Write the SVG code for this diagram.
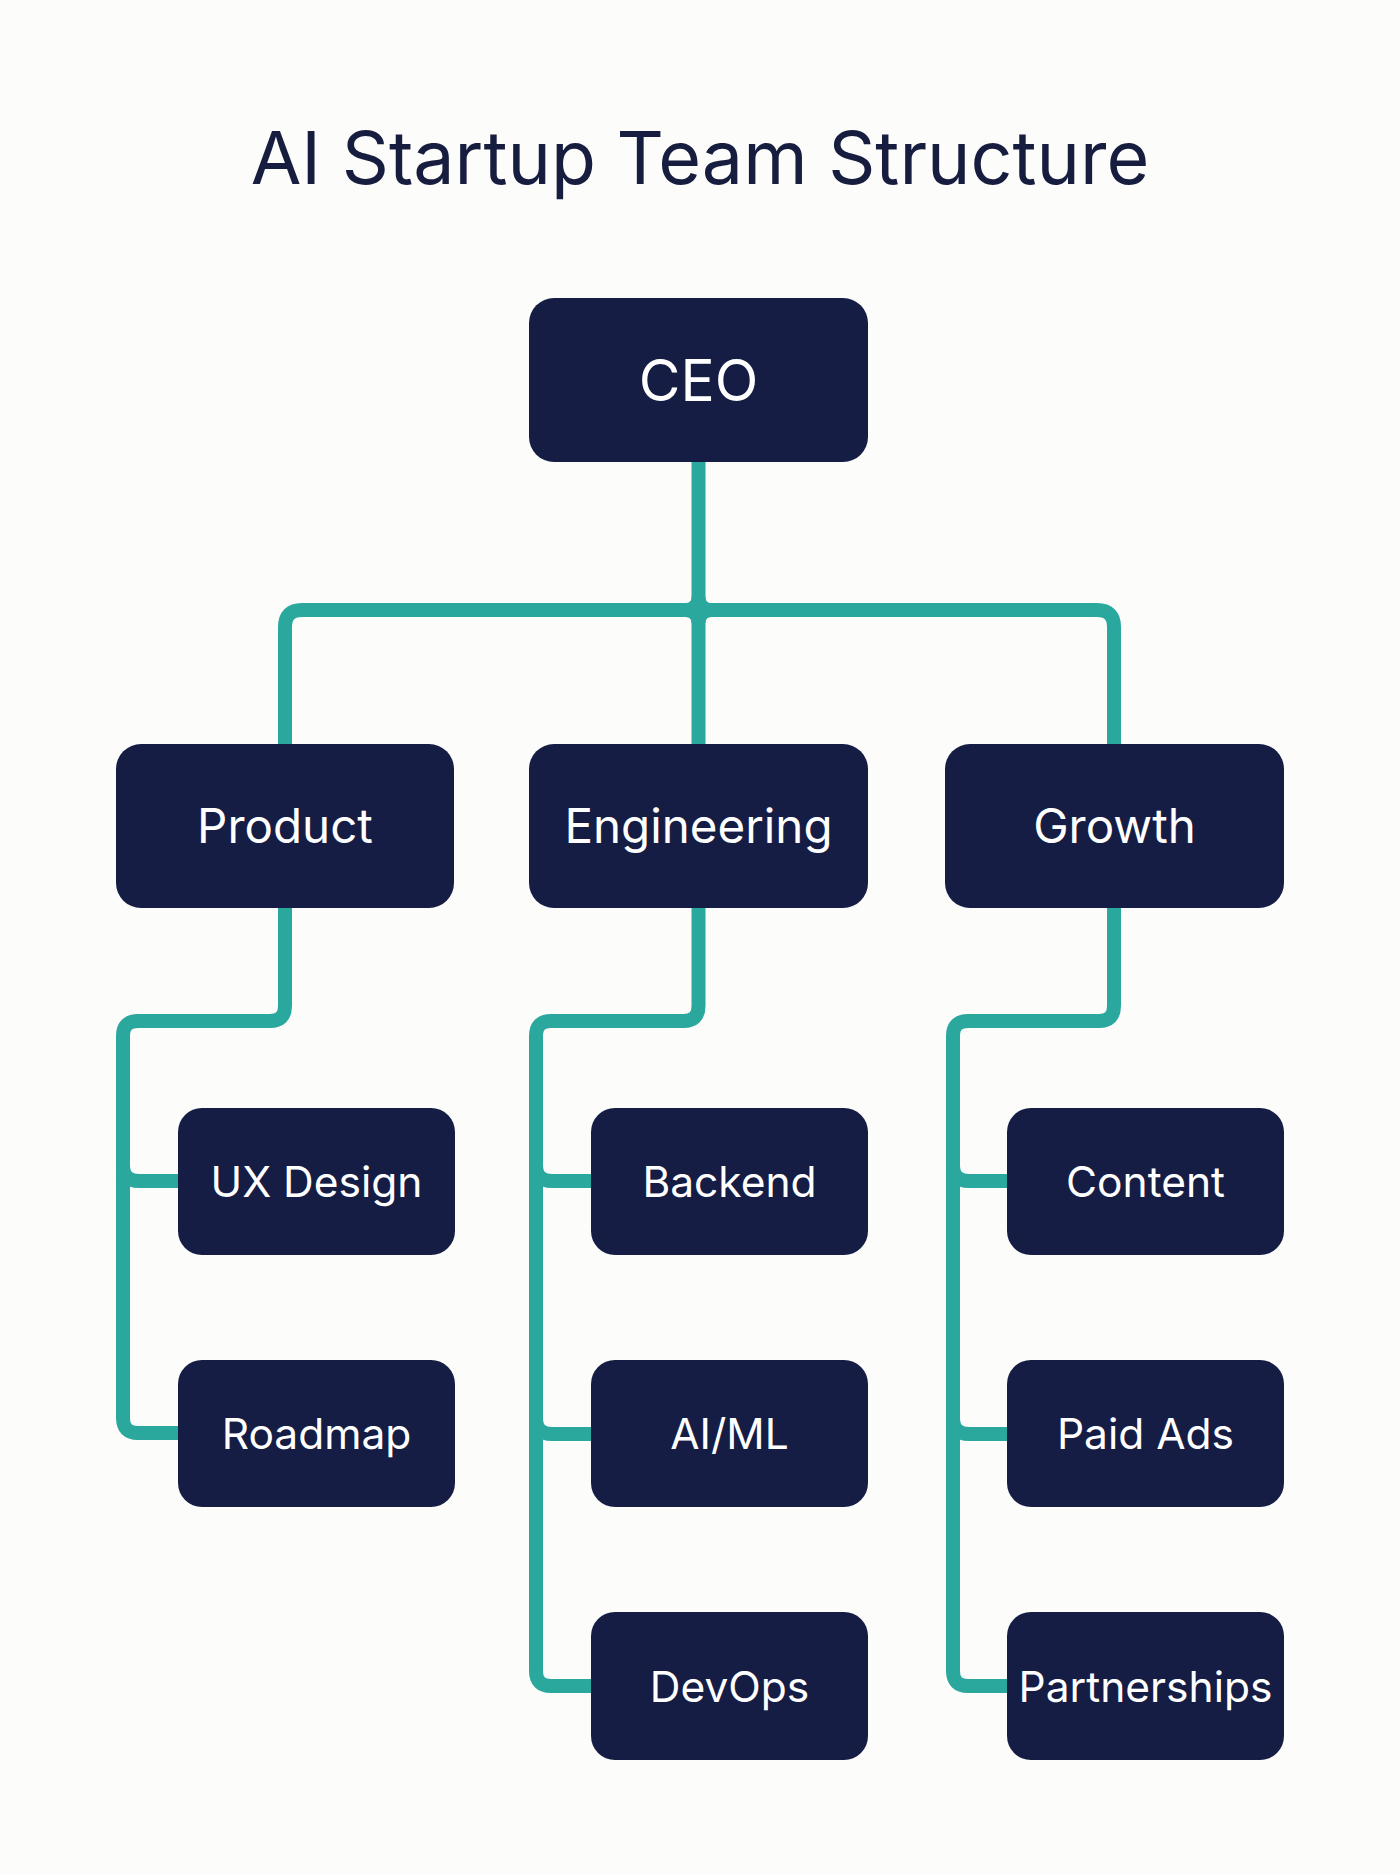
<svg xmlns="http://www.w3.org/2000/svg" width="1400" height="1875" viewBox="0 0 1400 1875">
  <style>
    .node rect { fill: #151D45; }
    .node text { fill: #FFFFFF; font-family: Inter, "Liberation Sans", sans-serif; text-anchor: middle; }
    .lvl0 text { font-size: 57px; }
    .lvl1 text { font-size: 47.5px; }
    .lvl2 text { font-size: 42.5px; }
    .conn path { fill: none; stroke: #2AA89E; stroke-width: 14; stroke-linecap: butt; stroke-linejoin: round; }
    .conn .fillet { fill: #2AA89E; stroke: none; }
    .title { fill: #161D3F; font-family: Inter, "Liberation Sans", sans-serif; font-size: 73.5px; text-anchor: middle; }
  </style>
  <rect width="1400" height="1875" fill="#FCFCFA"/>
  <text class="title" x="700" y="184">AI Startup Team Structure</text>

  <g id="connectors" class="conn">
    <!-- CEO to level 1 -->
    <path d="M698.5,462 L698.5,744"/>
    <path d="M285,744 L285,627 Q285,610 302,610 L1097,610 Q1114,610 1114,627 L1114,744"/>
    <path class="fillet" d="M691.5,597 Q691.5,603 685.5,603 L711.5,603 Q705.5,603 705.5,597 Z"/>
    <path class="fillet" d="M691.5,623 Q691.5,617 685.5,617 L711.5,617 Q705.5,617 705.5,623 Z"/>
    <!-- Product column -->
    <path d="M285,908 L285,1006 Q285,1021 270,1021 L138,1021 Q123,1021 123,1036 L123,1418 Q123,1433 138,1433 L179,1433"/>
    <path d="M123,1165 Q123,1181 139,1181 L179,1181"/>
    <!-- Engineering column -->
    <path d="M698.5,908 L698.5,1006 Q698.5,1021 683.5,1021 L551,1021 Q536,1021 536,1036 L536,1671 Q536,1686 551,1686 L592,1686"/>
    <path d="M536,1165 Q536,1181 552,1181 L592,1181"/>
    <path d="M536,1418 Q536,1434 552,1434 L592,1434"/>
    <!-- Growth column -->
    <path d="M1114,908 L1114,1006 Q1114,1021 1099,1021 L968,1021 Q953,1021 953,1036 L953,1671 Q953,1686 968,1686 L1008,1686"/>
    <path d="M953,1165 Q953,1181 969,1181 L1008,1181"/>
    <path d="M953,1418 Q953,1434 969,1434 L1008,1434"/>
  </g>

  <g id="ceo" class="node lvl0">
    <rect x="529" y="298" width="339" height="164" rx="25"/>
    <text x="698.5" y="401">CEO</text>
  </g>

  <g id="product" class="node lvl1">
    <rect x="116" y="744" width="338" height="164" rx="25"/>
    <text x="285" y="843">Product</text>
  </g>
  <g id="engineering" class="node lvl1">
    <rect x="529" y="744" width="339" height="164" rx="25"/>
    <text x="698.5" y="843">Engineering</text>
  </g>
  <g id="growth" class="node lvl1">
    <rect x="945" y="744" width="339" height="164" rx="25"/>
    <text x="1114.5" y="843">Growth</text>
  </g>

  <g id="ux-design" class="node lvl2">
    <rect x="178" y="1108" width="277" height="147" rx="24"/>
    <text x="316.5" y="1197">UX Design</text>
  </g>
  <g id="roadmap" class="node lvl2">
    <rect x="178" y="1360" width="277" height="147" rx="24"/>
    <text x="316.5" y="1449">Roadmap</text>
  </g>

  <g id="backend" class="node lvl2">
    <rect x="591" y="1108" width="277" height="147" rx="24"/>
    <text x="729.5" y="1197">Backend</text>
  </g>
  <g id="ai-ml" class="node lvl2">
    <rect x="591" y="1360" width="277" height="147" rx="24"/>
    <text x="729.5" y="1449">AI/ML</text>
  </g>
  <g id="devops" class="node lvl2">
    <rect x="591" y="1612" width="277" height="148" rx="24"/>
    <text x="729.5" y="1702">DevOps</text>
  </g>

  <g id="content" class="node lvl2">
    <rect x="1007" y="1108" width="277" height="147" rx="24"/>
    <text x="1145.5" y="1197">Content</text>
  </g>
  <g id="paid-ads" class="node lvl2">
    <rect x="1007" y="1360" width="277" height="147" rx="24"/>
    <text x="1145.5" y="1449">Paid Ads</text>
  </g>
  <g id="partnerships" class="node lvl2">
    <rect x="1007" y="1612" width="277" height="148" rx="24"/>
    <text x="1145.5" y="1702">Partnerships</text>
  </g>
</svg>
